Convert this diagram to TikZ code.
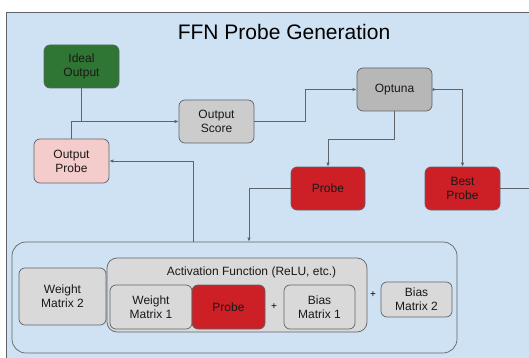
\documentclass[tikz,border=0pt]{standalone}
\usepackage{fontspec}
\setmainfont{Liberation Sans}
\usetikzlibrary{arrows.meta}

\definecolor{panelblue}{HTML}{CFE2F3}
\definecolor{edgegrey}{HTML}{5F6368}
\definecolor{idealgreen}{HTML}{2F7533}
\definecolor{probered}{HTML}{CC1F26}
\definecolor{outpink}{HTML}{F4CCCC}
\definecolor{scoregrey}{HTML}{CCCCCC}
\definecolor{optgrey}{HTML}{B7B7B7}
\definecolor{matgrey}{HTML}{D9D9D9}

\begin{document}
\begin{tikzpicture}[x=1pt, y=-1pt,
    blk/.style={draw=edgegrey, line width=0.7pt, rounded corners=6pt, align=center,
        inner sep=0pt, text=black!90, font=\fontsize{12}{14}\selectfont},
    std/.style={blk, minimum width=75pt, minimum height=43pt},
    wire/.style={draw=edgegrey, line width=0.8pt},
    arr/.style={wire, -{Latex[length=4pt,width=3.5pt]}}]
    \useasboundingbox (0,0) rectangle (529,358);

    % background panel
    \fill[panelblue] (6,12) rectangle (540,362);
    \draw[edgegrey, line width=0.7pt] (540,12) -- (6,12) -- (6,362);
    \node[font=\fontsize{21}{24}\selectfont] (title) at (284,32) {FFN Probe Generation};

    % top loop
    \node[std, fill=idealgreen] (ideal) at (81.5,66.5) {Ideal\\Output};
    \node[std, fill=outpink, minimum height=44pt] (outprobe) at (71.5,161) {Output\\Probe};
    \node[std, fill=scoregrey] (score) at (216.5,121.5) {Output\\Score};
    \node[std, fill=optgrey] (optuna) at (394.5,89.5) {Optuna};
    \node[std, fill=probered, minimum width=74pt] (probe) at (328,188.5) {Probe};
    \node[std, fill=probered] (best) at (462.5,188.5) {Best\\Probe};
    \coordinate (offpage) at (536,188.5);

    % network block
    \node[draw=edgegrey, line width=0.7pt, rounded corners=14pt, minimum width=445pt,
        minimum height=111pt] (ffn) at (234.5,297.5) {};
    \node[blk, fill=matgrey, minimum width=87pt, minimum height=57pt] (wm2) at (62.5,296.5) {Weight\\Matrix 2};
    \node[blk, fill=matgrey, rounded corners=10pt, minimum width=260pt, minimum height=74pt] (act) at (237,295) {};
    \node[font=\fontsize{12}{14}\selectfont, text=black!90] (actlabel) at (251.5,272) {Activation Function (ReLU, etc.)};
    \node[blk, fill=matgrey, minimum width=82pt, minimum height=44pt] (wm1) at (151,307) {Weight\\Matrix 1};
    \node[blk, fill=probered, minimum width=73pt, minimum height=44pt] (probein) at (228.5,307) {Probe};
    \node[font=\fontsize{10}{12}\selectfont] (plusa) at (274,307) {+};
    \node[blk, fill=matgrey, minimum width=71pt, minimum height=44pt] (bm1) at (319.5,307) {Bias\\Matrix 1};
    \node[font=\fontsize{10}{12}\selectfont] (plusb) at (373,295) {+};
    \node[blk, fill=matgrey, minimum width=71pt, minimum height=35pt] (bm2) at (416.5,299.5) {Bias\\Matrix 2};

    % connectors
    \draw[wire] (ideal.south) -- (ideal.south |- score.west);
    \draw[arr] (outprobe.north) |- (score.west);
    \draw[arr] (score.east) -- ++(51,0) |- (optuna.west);
    \draw[arr] (optuna.south) -- ++(0,28) -| (probe.north);
    \draw[wire, {Circle[open,length=2.6pt,width=2.6pt,line width=0.6pt,fill=panelblue]}-{Latex[length=4pt,width=3.5pt]}]
        (optuna.east) -| (best.north);
    \draw[arr] (probe.west) -| ([xshift=14.5pt]ffn.north);
    \draw[arr] ([xshift=-41.5pt]ffn.north) |- (outprobe.east);
    \draw[wire] (best.east) -- (offpage);
\end{tikzpicture}
\end{document}
